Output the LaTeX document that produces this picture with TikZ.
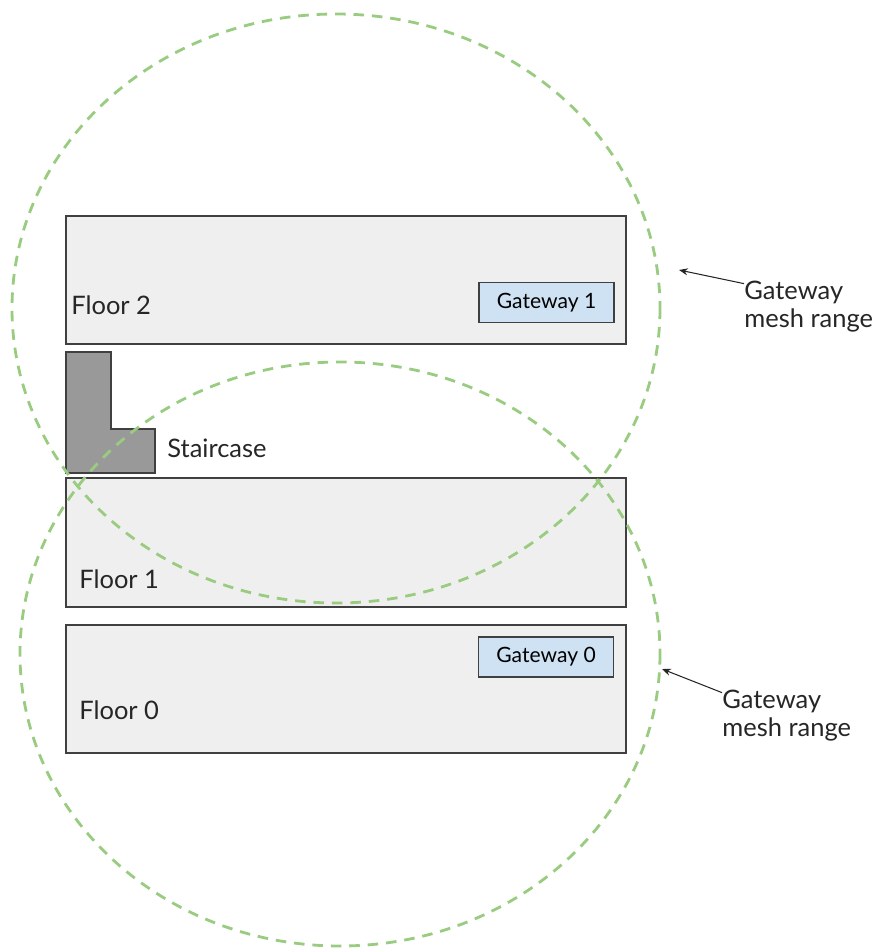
\documentclass[tikz,border=0pt]{standalone}
\usepackage{fontspec}
\setmainfont{Lato}
\usetikzlibrary{arrows.meta}
\usetikzlibrary{positioning}
\tikzset{floor/.style = {draw=darkline, fill=floorgray, line width=0.8pt}}
\tikzset{gwbox/.style = {draw=darkline, fill=gwblue, line width=0.8pt, minimum width=2.7cm,
                         minimum height=0.8cm, inner sep=0, font=\fontsize{12}{14}\selectfont}}
\tikzset{lbl/.style = {anchor=base west, inner sep=0, text=textgray, font=\fontsize{14.5}{15.9}\selectfont}}
\tikzset{meshrange/.style = {draw=rangegreen, line width=1.6pt, dash pattern=on 6pt off 4.5pt}}
\tikzset{ptr/.style = {-{Stealth[length=5pt, width=4pt]}, line width=0.6pt, draw=black!85}}
\definecolor{darkline}{rgb}{0.25, 0.25, 0.25}
\definecolor{floorgray}{rgb}{0.937, 0.937, 0.937}
\definecolor{gwblue}{rgb}{0.81, 0.886, 0.953}
\definecolor{stairgray}{rgb}{0.6, 0.6, 0.6}
\definecolor{rangegreen}{rgb}{0.6, 0.8, 0.5}
\definecolor{textgray}{rgb}{0.15, 0.15, 0.15}

\begin{document}
\begin{tikzpicture}[x=0.02cm, y=-0.02cm]
      \useasboundingbox (0, 0) rectangle (876, 949);

      % floors
      \draw [floor] (66, 216) rectangle (626, 344);
      \draw [floor] (66, 478) rectangle (626, 607);
      \draw [floor] (66, 625) rectangle (626, 753);
      \draw [draw=darkline, fill=stairgray, line width=0.8pt]
        (66, 352) -- (111, 352) -- (111, 429) -- (155, 429) -- (155, 473) -- (66, 473) -- cycle;

      \node [lbl] (floor2) at (71, 315) {Floor 2};
      \node [lbl] (floor1) at (79, 588) {Floor 1};
      \node [lbl] (floor0) at (79, 719) {Floor 0};
      \node [lbl] (stair) at (167, 457) {Staircase};

      \node [gwbox] (gw1) at (546.5, 302.5) {Gateway 1};
      \node [gwbox] (gw0) at (546, 657) {Gateway 0};

      % mesh ranges
      \draw [meshrange] (336, 308.5) ellipse [x radius=324, y radius=294.5];
      \draw [meshrange] (340, 654) ellipse [x radius=320, y radius=292];

      \coordinate (tip1) at (679, 270);
      \coordinate (tip0) at (662, 669);
      \node [lbl, align=left, anchor=north west] (mesh1) at (744, 281) {Gateway\\mesh range};
      \node [lbl, align=left, anchor=north west] (mesh0) at (722, 690) {Gateway\\mesh range};
      \draw [ptr] ([yshift=-1.5pt]mesh1.north west) -- (tip1);
      \draw [ptr] ([yshift=-1.5pt]mesh0.north west) -- (tip0);
    \end{tikzpicture}
\end{document}
